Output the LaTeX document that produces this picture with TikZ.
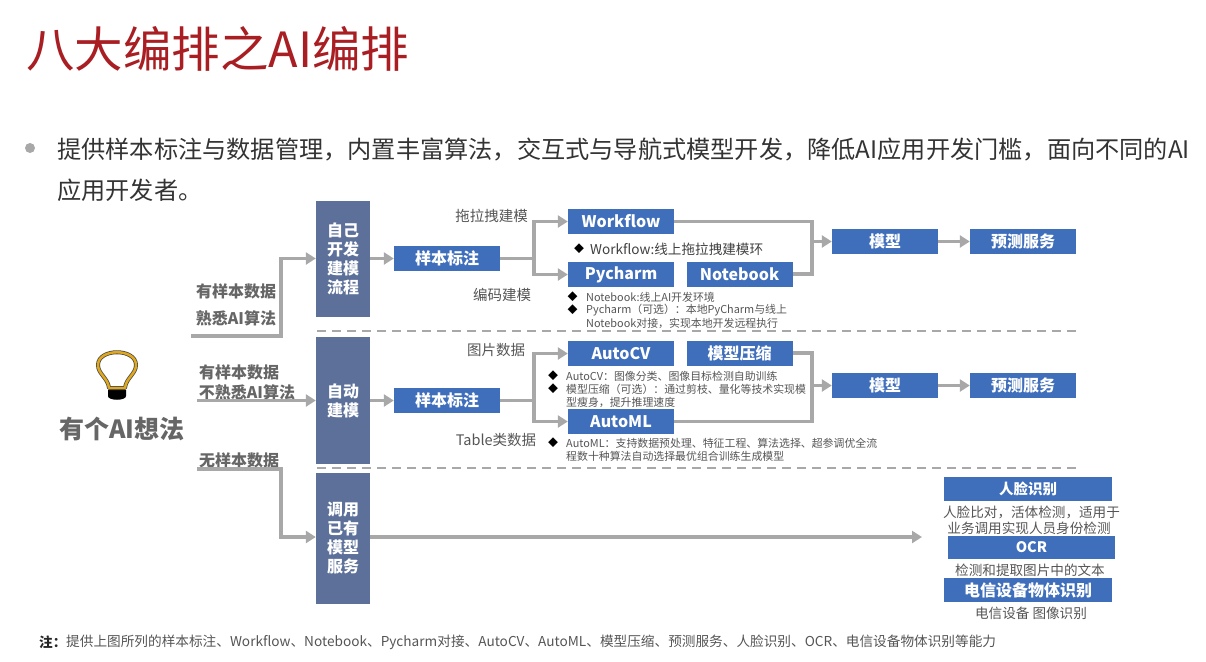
\documentclass[tikz,border=0pt]{standalone}
\usepackage{fontspec}
\setmainfont{Noto Sans CJK SC}
\usetikzlibrary{arrows.meta,positioning}
\newcommand{\fs}[1]{\fontsize{#1}{#1}\selectfont}
\newcommand{\qc}{\char65292\relax}
\newcommand{\qk}{\char65306\relax}
\newcommand{\ql}{\char65288\relax}
\newcommand{\qr}{\char65289\relax}
\definecolor{boxblue}{HTML}{3F6EBB}
\definecolor{boxslate}{HTML}{5C7099}
\definecolor{flowgray}{HTML}{A8A8A8}
\definecolor{labelgray}{HTML}{666666}
\definecolor{notegray}{HTML}{555555}
\definecolor{titlered}{HTML}{A81E22}
\tikzset{
  stagebox/.style={fill=boxslate,text=white,inner sep=0pt,minimum width=54pt,align=center,font=\fontsize{16}{19}\selectfont\bfseries},
  bluebox/.style={fill=boxblue,text=white,inner sep=0pt,minimum width=106pt,minimum height=25pt,font=\fs{16}\bfseries},
  svcbox/.style={bluebox,minimum width=168pt,minimum height=24pt},
  sidelabel/.style={text=labelgray,inner sep=0pt,font=\fs{16}\bfseries},
  branchlabel/.style={text=notegray,inner sep=0pt,font=\fs{14.5}},
  note/.style={text=notegray,inner sep=0pt,anchor=west,font=\fs{10.9}},
  svcnote/.style={text=notegray,inner sep=0pt,font=\fs{13.6}},
  bulletmark/.style={text=black,inner sep=0pt,font=\fs{10}},
  flow/.style={draw=flowgray,line width=3.5pt,-{Triangle[length=10pt,width=12pt]}},
  flowline/.style={draw=flowgray,line width=3.5pt},
  divider/.style={draw=flowgray,line width=2pt,dash pattern=on 9pt off 6pt}
}
\begin{document}
\begin{tikzpicture}[x=1pt,y=-1pt,node distance=138pt,on grid]
\useasboundingbox (0,0) rectangle (1206,661);
\node[text=titlered,inner sep=0pt,anchor=west,font=\fs{48.5}] (title) at (26,49) {八大编排之AI编排};
\node[circle,fill=flowgray,inner sep=0pt,minimum size=10pt] (dot) at (30,148) {};
\node[inner sep=0pt,anchor=west,text=black!80,font=\fs{24.2}] (intro1) at (57,149) {提供样本标注与数据管理\qc 内置丰富算法\qc 交互式与导航式模型开发\qc 降低AI应用开发门槛\qc 面向不同的AI};
\node[inner sep=0pt,anchor=west,text=black!80,font=\fs{24.2}] (intro2) at (57,190) {应用开发者。};

\node[stagebox,minimum height=116pt] (self) at (343,258.5) {自己\\开发\\建模\\流程};
\node[stagebox,minimum height=127pt] (auto) at (343,400.5) {自动\\建模};
\node[stagebox,minimum height=131pt] (call) at (343,538.5) {调用\\已有\\模型\\服务};

\node[bluebox] (labela) at (447,258.5) {样本标注};
\node[bluebox] (labelb) at (447,400.5) {样本标注};
\node[bluebox] (workflow) at (621,221.5) {Workflow};
\node[bluebox] (pycharm) at (621,274.5) {Pycharm};
\node[bluebox] (notebook) at (739.5,274) {Notebook};
\node[bluebox] (autocv) at (621,353.5) {AutoCV};
\node[bluebox] (compress) at (739.5,353) {模型压缩};
\node[bluebox] (automl) at (621,421.5) {AutoML};
\node[bluebox] (modela) at (885,241.5) {模型};
\node[bluebox] (modelb) at (885,385.5) {模型};
\node[bluebox,right=of modela] (servea) {预测服务};
\node[bluebox,right=of modelb] (serveb) {预测服务};
\node[svcbox,font=\fs{14.5}\bfseries] (face) at (1028,489) {人脸识别};
\node[svcbox,minimum width=167pt,minimum height=23pt,font=\fs{14.5}\bfseries] (ocr) at (1031.5,547.5) {OCR};
\node[svcbox] (telecom) at (1028,590) {电信设备物体识别};

\node[sidelabel] (s1) at (236,291) {有样本数据};
\node[sidelabel] (s2) at (236,318) {熟悉AI算法};
\node[sidelabel] (s3) at (239,372) {有样本数据};
\node[sidelabel] (s4) at (247,392) {不熟悉AI算法};
\node[sidelabel] (s5) at (239,460) {无样本数据};
\node[branchlabel] (b1) at (491.5,216) {拖拉拽建模};
\node[branchlabel] (b2) at (502,295) {编码建模};
\node[branchlabel] (b3) at (496,350) {图片数据};
\node[branchlabel] (b4) at (496,440) {Table类数据};

\foreach \x/\y in {579/249,572.5/297,572.5/310,553/376,553/389,553/443}
  \node[bulletmark] (mark\y) at (\x,\y) {◆};
\node[note,text=black!75,font=\fs{13.6}] (n1) at (590,249) {Workflow:线上拖拉拽建模环};
\node[note] (n2) at (586,297) {Notebook:线上AI开发环境};
\node[note] (n3) at (586,310) {Pycharm\ql 可选\qr\qk 本地PyCharm与线上};
\node[note] (n4) at (586,323) {Notebook对接\qc 实现本地开发远程执行};
\node[note] (n5) at (566,376) {AutoCV\qk 图像分类、图像目标检测自助训练};
\node[note] (n6) at (566,389) {模型压缩\ql 可选\qr\qk 通过剪枝、量化等技术实现模};
\node[note] (n7) at (566,402) {型瘦身\qc 提升推理速度};
\node[note] (n8) at (566,443) {AutoML\qk 支持数据预处理、特征工程、算法选择、超参调优全流};
\node[note] (n9) at (566,456) {程数十种算法自动选择最优组合训练生成模型};
\node[svcnote] (f1) at (1031.5,512) {人脸比对\qc 活体检测\qc 适用于};
\node[svcnote] (f2) at (1029,528) {业务调用实现人员身份检测};
\node[svcnote] (f3) at (1030,570) {检测和提取图片中的文本};
\node[svcnote] (f4) at (1031,613) {电信设备 图像识别};

\node[inner sep=0pt,anchor=west,text=black!85,font=\fs{13.6}\bfseries] (notehead) at (39,642) {注\qk};
\node[inner sep=0pt,anchor=west,text=notegray,font=\fs{13.65}] (notebody) at (66,642) {提供上图所列的样本标注、Workflow、Notebook、Pycharm对接、AutoCV、AutoML、模型压缩、预测服务、人脸识别、OCR、电信设备物体识别等能力};

\node[text=labelgray,inner sep=0pt,font=\fs{25}\bfseries] (idea) at (122,429) {有个AI想法};
\fill[black] (108,390) -- (126,390) -- (126,396) .. controls (126,401) and (108,401) .. (108,396) -- cycle;
\foreach \c/\w in {black!70/4pt,{rgb,255:red,226;green,168;blue,28}/2.4pt}
  \draw[draw=\c,line width=\w,line join=round] (109,388) .. controls (108,378) and (98,374) .. (98,365) .. controls (98,348) and (136,348) .. (136,365) .. controls (136,374) and (126,378) .. (125,388) -- cycle;

\coordinate (starta) at (191,336);
\coordinate (startb) at (197,400.5);
\coordinate (startc) at (197,469);
\coordinate (benda) at (281,258.5);
\coordinate (bendc) at (281,537);
\coordinate (forka) at (534,258.5);
\coordinate (forkb) at (534,400.5);
\coordinate (joina) at (812,241.5);
\coordinate (joinb) at (812,385.5);
\coordinate (callend) at (922,537);

\draw[flow] (starta) -| (benda) -- (self.west |- benda);
\draw[flow] (startb) -- (auto.west |- startb);
\draw[flow] (startc) -| (bendc) -- (call.west |- bendc);
\draw[flow] (call.east |- callend) -- (callend);
\path
  (self.east) edge[flow] (labela.west)
  (auto.east) edge[flow] (labelb.west)
  (modela.east) edge[flow] (servea.west)
  (modelb.east) edge[flow] (serveb.west)
  (joina) edge[flow] (modela.west)
  (joinb) edge[flow] (modelb.west);
\draw[flowline] (labela.east) -- (forka);
\draw[flowline] (labelb.east) -- (forkb);
\draw[flow] (forka) |- (workflow.west);
\draw[flow] (forka) |- (pycharm.west);
\draw[flow] (forkb) |- (autocv.west);
\draw[flow] (forkb) |- (automl.west);
\draw[flowline] (workflow.east) -| (joina) |- (notebook.east);
\draw[flowline] (compress.east) -| (joinb) |- (automl.east);

\coordinate (diva) at (317,331);
\coordinate (divb) at (317,468);
\draw[divider] (diva) -- (diva -| serveb.east);
\draw[divider] (divb) -- (divb -| serveb.east);
\end{tikzpicture}
\end{document}
